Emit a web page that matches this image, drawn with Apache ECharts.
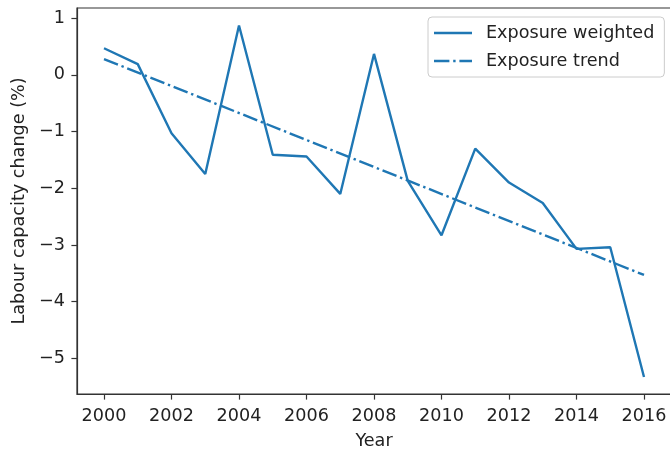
<!DOCTYPE html>
<html>
<head>
<meta charset="utf-8">
<script src="https://cdn.jsdelivr.net/npm/echarts@6/dist/echarts.min.js"></script>
<style>
html,body{margin:0;padding:0;background:#fff;}
#chart{width:670px;height:452px;}
</style>
</head>
<body>
<div id="chart"></div>
<script>
var years = [2000,2001,2002,2003,2004,2005,2006,2007,2008,2009,2010,2011,2012,2013,2014,2015,2016];
var exposureWeighted = [0.47,0.19,-1.03,-1.75,0.87,-1.41,-1.44,-2.10,0.37,-1.87,-2.83,-1.30,-1.90,-2.26,-3.07,-3.04,-5.33];
var trendYears = [2000,2016];
var trendValues = [0.28,-3.53];
var xTicks = [2000,2002,2004,2006,2008,2010,2012,2014,2016];
var yTicks = [-5,-4,-3,-2,-1,0,1];

var FONT = 'DejaVu Sans';
var FS = 17.6;
var TXT = '#222';
var BLUE = '#1f77b4';

var solidIcon = 'path://M0,0H38V2.4H0Z';
var dashDotIcon = 'path://M0,0H15.4V2.4H0Z M19.2,0H21.6V2.4H19.2Z M25.4,0H38V2.4H25.4Z';

var chart = echarts.init(document.getElementById('chart'), null, {renderer:'canvas'});
chart.setOption({
  animation:false,
  backgroundColor:'#fff',
  textStyle:{fontFamily:FONT,color:TXT},
  grid:{left:77,right:-1,top:8,bottom:58,containLabel:false,outerBoundsMode:'none',show:true,borderColor:'#333',borderWidth:1.2,backgroundColor:'transparent'},
  legend:{
    left:428, top:17,
    orient:'vertical',
    backgroundColor:'#fff',
    borderColor:'#cccccc', borderWidth:1, borderRadius:4,
    padding:[7,10,7,6],
    itemWidth:38, itemHeight:2.4, itemGap:10,
    textStyle:{fontFamily:FONT,fontSize:FS,lineHeight:18,color:TXT,padding:[0,0,0,9]},
    data:[{name:'Exposure weighted',icon:solidIcon},{name:'Exposure trend',icon:dashDotIcon}]
  },
  xAxis:{
    type:'value', min:1999.2, max:2016.8,
    name:'Year', nameLocation:'middle', nameGap:38,
    nameTextStyle:{fontFamily:FONT,fontSize:FS,color:TXT},
    axisLine:{show:true,onZero:false,lineStyle:{color:'#333',width:1.2}},
    axisTick:{show:true,length:5.6,inside:false,customValues:xTicks,lineStyle:{color:'#333',width:1.2}},
    axisLabel:{fontFamily:FONT,fontSize:FS,color:TXT,margin:13,customValues:xTicks,formatter:function(v){return String(v);}},
    splitLine:{show:false}
  },
  yAxis:{
    type:'value', min:-5.63, max:1.18,
    name:'Labour capacity change (%)', nameLocation:'middle', nameGap:44, nameRotate:90,
    nameTextStyle:{fontFamily:FONT,fontSize:FS,color:TXT},
    axisLine:{show:true,onZero:false,lineStyle:{color:'#333',width:1.2}},
    axisTick:{show:true,length:5.6,inside:false,customValues:yTicks,lineStyle:{color:'#333',width:1.2}},
    axisLabel:{fontFamily:FONT,fontSize:FS,color:TXT,margin:12,customValues:yTicks,formatter:function(v){return v<0?'\u2212'+Math.abs(v):String(v);}},
    splitLine:{show:false}
  },
  series:[
    {
      name:'Exposure weighted', type:'line', symbol:'none', showSymbol:false,
      data:years.map(function(y,i){return [y,exposureWeighted[i]];}),
      lineStyle:{color:BLUE,width:2.4}, itemStyle:{color:BLUE}
    },
    {
      name:'Exposure trend', type:'line', symbol:'none', showSymbol:false,
      data:trendYears.map(function(y,i){return [y,trendValues[i]];}),
      lineStyle:{color:BLUE,width:2.4,type:[15,3.8,2.4,3.8]}, itemStyle:{color:BLUE}
    }
  ]
});
</script>
</body>
</html>
